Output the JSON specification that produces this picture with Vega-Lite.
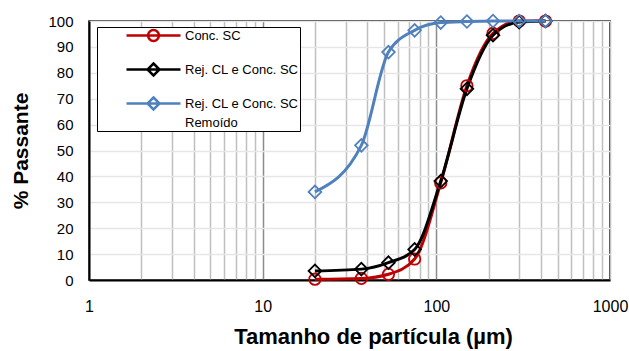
{
  "$schema": "https://vega.github.io/schema/vega-lite/v6.json",
  "width": 521,
  "height": 259,
  "autosize": {"type": "none"},
  "padding": {"left": 89, "top": 21, "right": 19, "bottom": 71},
  "background": "white",
  "config": {
    "font": "Liberation Sans",
    "view": {"stroke": "black", "strokeWidth": 1.5},
    "style": {"guide-label": {"lineHeight": 19}}
  },
  "data": {
    "values": [
      {"serie": "Conc. SC", "tamanho": 20, "passante": 0.3},
      {"serie": "Conc. SC", "tamanho": 37, "passante": 0.6},
      {"serie": "Conc. SC", "tamanho": 53, "passante": 2.2},
      {"serie": "Conc. SC", "tamanho": 75, "passante": 8.1},
      {"serie": "Conc. SC", "tamanho": 106, "passante": 37.5},
      {"serie": "Conc. SC", "tamanho": 150, "passante": 75},
      {"serie": "Conc. SC", "tamanho": 212, "passante": 95.2},
      {"serie": "Conc. SC", "tamanho": 300, "passante": 100},
      {"serie": "Conc. SC", "tamanho": 425, "passante": 100},
      {"serie": "Rej. CL e Conc. SC", "tamanho": 20, "passante": 3.5},
      {"serie": "Rej. CL e Conc. SC", "tamanho": 37, "passante": 4.2},
      {"serie": "Rej. CL e Conc. SC", "tamanho": 53, "passante": 6.7},
      {"serie": "Rej. CL e Conc. SC", "tamanho": 75, "passante": 11.8},
      {"serie": "Rej. CL e Conc. SC", "tamanho": 106, "passante": 38.2},
      {"serie": "Rej. CL e Conc. SC", "tamanho": 150, "passante": 73.8},
      {"serie": "Rej. CL e Conc. SC", "tamanho": 212, "passante": 94.5},
      {"serie": "Rej. CL e Conc. SC", "tamanho": 300, "passante": 99.6},
      {"serie": "Rej. CL e Conc. SC", "tamanho": 425, "passante": 100},
      {"serie": "Rej. CL e Conc. SC Remoído", "tamanho": 20, "passante": 34},
      {"serie": "Rej. CL e Conc. SC Remoído", "tamanho": 37, "passante": 52},
      {"serie": "Rej. CL e Conc. SC Remoído", "tamanho": 53, "passante": 88},
      {"serie": "Rej. CL e Conc. SC Remoído", "tamanho": 75, "passante": 96.4},
      {"serie": "Rej. CL e Conc. SC Remoído", "tamanho": 106, "passante": 99.4},
      {"serie": "Rej. CL e Conc. SC Remoído", "tamanho": 150, "passante": 99.8},
      {"serie": "Rej. CL e Conc. SC Remoído", "tamanho": 212, "passante": 100},
      {"serie": "Rej. CL e Conc. SC Remoído", "tamanho": 300, "passante": 100},
      {"serie": "Rej. CL e Conc. SC Remoído", "tamanho": 425, "passante": 100}
    ]
  },
  "encoding": {
    "x": {
      "field": "tamanho",
      "type": "quantitative",
      "scale": {"type": "log", "domain": [1, 1000], "nice": false},
      "axis": {
        "title": "Tamanho de partícula (µm)",
        "titleFontSize": 22,
        "titleFontWeight": "bold",
        "titleColor": "black",
        "titleX": 284,
        "titlePadding": 12,
        "values": [1, 2, 3, 4, 5, 6, 7, 8, 9, 10, 20, 30, 40, 50, 60, 70, 80, 90, 100, 200, 300, 400, 500, 600, 700, 800, 900, 1000],
        "labelExpr": "(datum.value == 1 || datum.value == 10 || datum.value == 100 || datum.value == 1000) ? datum.label : ''",
        "format": "d",
        "labelFontSize": 16,
        "labelColor": "black",
        "labelPadding": 18,
        "labelOverlap": false,
        "labelFlush": false,
        "ticks": false,
        "domainColor": "black",
        "domainWidth": 2,
        "gridColor": {"condition": {"test": "datum.value == 10 || datum.value == 100", "value": "#8c8c8c"}, "value": "#bfbfbf"},
        "gridWidth": 1.5
      }
    },
    "y": {
      "field": "passante",
      "type": "quantitative",
      "scale": {"domain": [0, 100], "nice": false},
      "axis": {
        "title": "% Passante",
        "titleFontSize": 21,
        "titleFontWeight": "bold",
        "titleColor": "black",
        "titlePadding": 16,
        "values": [0, 10, 20, 30, 40, 50, 60, 70, 80, 90, 100],
        "labelFontSize": 15,
        "labelColor": "black",
        "labelPadding": 16,
        "ticks": false,
        "domainColor": "black",
        "domainWidth": 2,
        "gridColor": "#e6e6e6",
        "gridWidth": 1.5
      }
    },
    "color": {
      "field": "serie",
      "type": "nominal",
      "scale": {
        "domain": ["Conc. SC", "Rej. CL e Conc. SC", "Rej. CL e Conc. SC Remoído"],
        "range": ["#c00000", "#000000", "#4f81bd"]
      },
      "legend": {
        "title": null,
        "orient": "none",
        "legendX": 8,
        "legendY": 6,
        "strokeColor": "black",
        "fillColor": "white",
        "padding": 1,
        "symbolType": "M-4.5,0H4.5M0,-1L1,0L0,1L-1,0Z",
        "symbolSize": 144,
        "symbolStrokeWidth": 2.5,
        "symbolOffset": 48,
        "labelOffset": 24,
        "labelFontSize": 13,
        "labelColor": "black",
        "labelBaseline": "middle",
        "labelLimit": 300,
        "rowPadding": -5,
        "labelExpr": "datum.value == 'Conc. SC' ? ['Conc. SC', ''] : datum.value == 'Rej. CL e Conc. SC' ? ['Rej. CL e Conc. SC       ', ''] : ['Rej. CL e Conc. SC       ', 'Remoído']"
      }
    }
  },
  "layer": [
    {
      "mark": {"type": "line", "strokeWidth": 3, "interpolate": "monotone"}
    },
    {
      "transform": [{"filter": "datum.serie == 'Conc. SC'"}],
      "mark": {"type": "point", "shape": "circle", "size": 130, "filled": false, "strokeWidth": 1.8, "opacity": 1}
    },
    {
      "transform": [{"filter": "datum.serie != 'Conc. SC'"}],
      "mark": {"type": "point", "shape": "diamond", "size": 160, "filled": false, "strokeWidth": 1.8, "opacity": 1}
    },
    {
      "mark": {"type": "point", "filled": false, "size": 0, "opacity": 1},
      "encoding": {
        "shape": {
          "field": "serie",
          "type": "nominal",
          "scale": {
            "domain": ["Conc. SC", "Rej. CL e Conc. SC", "Rej. CL e Conc. SC Remoído"],
            "range": [
              "M-4.5,0H4.5M0.9,0A0.9,0.9,0,1,1,-0.9,0A0.9,0.9,0,1,1,0.9,0Z",
              "M-4.5,0H4.5M0,-1L1,0L0,1L-1,0Z",
              "M-4.5,0H4.5M0,-1L1,0L0,1L-1,0Z"
            ]
          },
          "legend": {"title": null}
        }
      }
    }
  ]
}
